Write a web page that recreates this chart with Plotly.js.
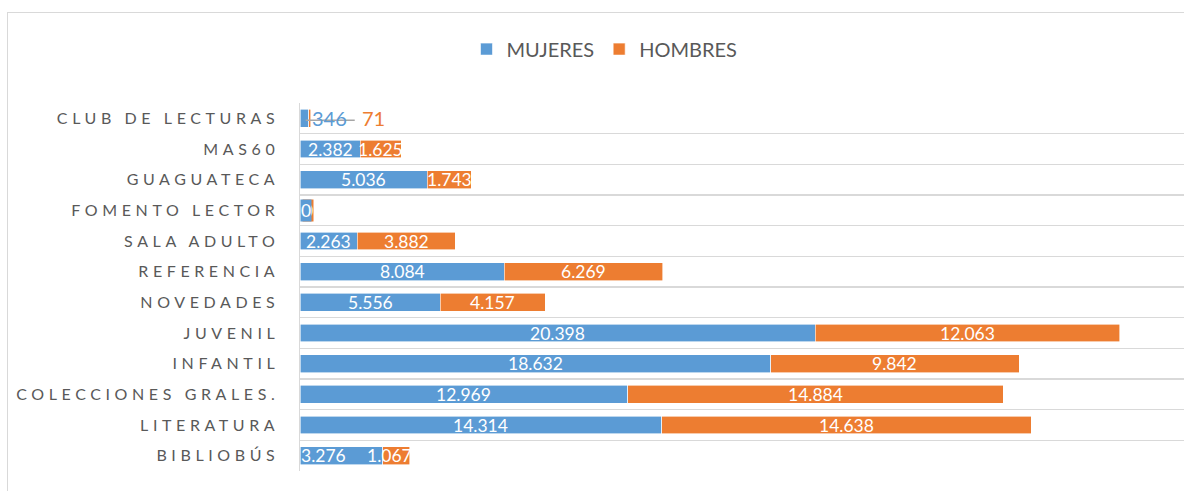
<!DOCTYPE html>
<html>
<head>
<meta charset="utf-8">
<script src="https://cdn.plot.ly/plotly-3.0.1.min.js"></script>
<style>
  html, body { margin: 0; padding: 0; background: #ffffff; overflow: hidden; }
  #frame { position: absolute; left: 7px; top: 12px; width: 1400px; height: 700px; border: 1px solid #d9d9d9; box-sizing: border-box; }
  #chart { position: absolute; left: 0; top: 0; width: 1184px; height: 491px; }
  #chart .ytick text { letter-spacing: 4.6px; }
</style>
</head>
<body>
<div id="frame"></div>
<div id="chart"></div>
<script>
// Data (bottom to top)
const categories = ['BIBLIOBÚS', 'LITERATURA', 'COLECCIONES GRALES.', 'INFANTIL', 'JUVENIL', 'NOVEDADES',
                    'REFERENCIA', 'SALA ADULTO', 'FOMENTO LECTOR', 'GUAGUATECA', 'MAS60', 'CLUB DE LECTURAS'];
const mujeres = [3276, 14314, 12969, 18632, 20398, 5556, 8084, 2263, 0, 5036, 2382, 346];
const hombres = [1067, 14638, 14884, 9842, 12063, 4157, 6269, 3882, 0, 1743, 1625, 71];
const seriesNames = ['MUJERES', 'HOMBRES'];

const BLUE = '#5b9bd5', ORANGE = '#ed7d31';
const FONT = 'Lato, "Open Sans", sans-serif';

function fmt(v) { return String(v).replace(/\B(?=(\d{3})+(?!\d))/g, '.'); }

const traces = [
  { type: 'bar', orientation: 'h', name: seriesNames[0], y: categories, x: mujeres,
    marker: { color: BLUE, line: { color: '#ffffff', width: 0.6 } }, hoverinfo: 'x+name' },
  { type: 'bar', orientation: 'h', name: seriesNames[1], y: categories, x: hombres,
    marker: { color: ORANGE, line: { color: '#ffffff', width: 0.6 } }, hoverinfo: 'x+name' }
];

// Label shifts (pixels) where labels would collide
const labelShift = { 'BIBLIOBÚS': [-18, -7] };

const annotations = [];
const shapes = [];
const lblFont = { family: FONT, size: 17.5, color: '#ffffff' };

categories.forEach((c, i) => {
  const m = mujeres[i], h = hombres[i];
  if (c === 'CLUB DE LECTURAS') {
    const tot = m + h;
    shapes.push({ type: 'line', xref: 'x', yref: 'y', xsizemode: 'pixel', xanchor: m,
      ysizemode: 'pixel', yanchor: c, x0: -3, x1: 46, y0: -2, y1: -2,
      line: { color: '#a6a6a6', width: 1.5 } });
    annotations.push({ xref: 'x', yref: 'y', x: tot, y: c, xanchor: 'left', xshift: -1,
      text: fmt(m), showarrow: false, font: { family: FONT, size: 20, color: BLUE } });
    annotations.push({ xref: 'x', yref: 'y', x: tot, y: c, xanchor: 'left', xshift: 49,
      text: fmt(h), showarrow: false, font: { family: FONT, size: 20, color: ORANGE } });
    return;
  }
  if (m === 0 && h === 0) {
    annotations.push({ xref: 'x', yref: 'y', x: 0, y: c, xanchor: 'left', xshift: 2,
      text: fmt(h), showarrow: false, bgcolor: ORANGE, borderpad: 0, font: lblFont });
    annotations.push({ xref: 'x', yref: 'y', x: 0, y: c, xanchor: 'left', xshift: 0,
      text: fmt(m), showarrow: false, bgcolor: BLUE, borderpad: 0, font: lblFont });
    return;
  }
  const s = labelShift[c] || [0, 0];
  annotations.push({ xref: 'x', yref: 'y', x: m / 2, y: c, xshift: s[0],
    text: fmt(m), showarrow: false, font: lblFont });
  annotations.push({ xref: 'x', yref: 'y', x: m + h / 2, y: c, xshift: s[1],
    text: fmt(h), showarrow: false, font: lblFont });
});

const layout = {
  width: 1184, height: 491,
  margin: { l: 300, r: 0, t: 103, b: 20, pad: 0 },
  paper_bgcolor: 'rgba(0,0,0,0)', plot_bgcolor: 'rgba(0,0,0,0)',
  barmode: 'stack', bargap: 0.42,
  font: { family: FONT, color: '#595959' },
  separators: ',.',
  showlegend: true,
  legend: { orientation: 'h', xref: 'container', yref: 'container', x: 0.394, y: 0.90,
    xanchor: 'left', yanchor: 'middle', font: { family: FONT, size: 20, color: '#595959' },
    itemwidth: 30, traceorder: 'normal' },
  xaxis: { range: [0, 35000], showgrid: false, zeroline: false, showticklabels: false,
    showline: false, fixedrange: true },
  yaxis: { type: 'category', categoryorder: 'array', categoryarray: categories,
    range: [-0.5, categories.length - 0.5], tickson: 'boundaries', ticks: '',
    showgrid: true, gridcolor: '#d9d9d9', gridwidth: 1.5,
    showline: true, linecolor: '#d9d9d9', linewidth: 1.5,
    ticklabelstandoff: 16,
    tickfont: { family: FONT, size: 16, color: '#595959' }, fixedrange: true },
  annotations: annotations,
  shapes: shapes
};

Plotly.newPlot('chart', traces, layout, { displayModeBar: false, staticPlot: true });
</script>
</body>
</html>
